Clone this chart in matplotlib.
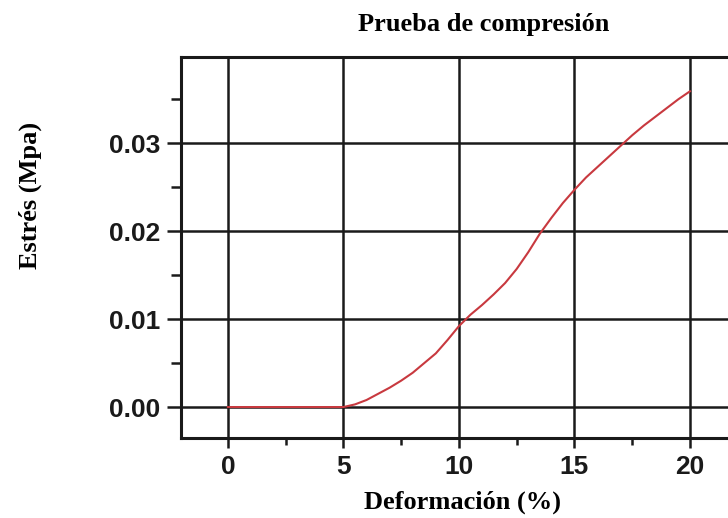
import matplotlib.pyplot as plt
from matplotlib.ticker import MultipleLocator

# Datos
deformacion = [0, 1, 2, 3, 4, 5, 5.5, 6, 6.5, 7, 7.5, 8, 8.5, 9, 9.5, 10, 10.5, 11, 11.5,
               12, 12.5, 13, 13.5, 14, 14.5, 15, 15.5, 16, 16.5, 17, 17.5, 18, 18.5,
               19, 19.5, 20]
estres = [0, 0, 0, 0, 0, 0, 0.0003, 0.0008, 0.0015, 0.0022, 0.0030, 0.0039, 0.0050,
          0.0061, 0.0076, 0.0092, 0.0105, 0.0116, 0.0128, 0.0141, 0.0157, 0.0176,
          0.0197, 0.0215, 0.0232, 0.0247, 0.0261, 0.0273, 0.0285, 0.0297, 0.0309,
          0.0320, 0.0330, 0.0340, 0.0350, 0.0359]

x_ticks = [0, 5, 10, 15, 20]
y_ticks = [0.00, 0.01, 0.02, 0.03]

fig = plt.figure(figsize=(7.28, 5.18), dpi=100)
# los ejes se salen por la derecha, como en la imagen original
ax = fig.add_axes([181 / 728, 80 / 518, 554 / 728, 381 / 518])

ax.plot(deformacion, estres, color='#c8393f', lw=1.5, zorder=3)

ax.set_xlim(-2.03, 21.95)
ax.set_ylim(-0.00352, 0.0398)
ax.set_xticks(x_ticks)
ax.set_yticks(y_ticks)
ax.set_xticklabels([str(t) for t in x_ticks])
ax.set_yticklabels(['%.2f' % t for t in y_ticks])
ax.xaxis.set_minor_locator(MultipleLocator(2.5))
ax.yaxis.set_minor_locator(MultipleLocator(0.005))

ax.grid(True, which='major', color='#1a1a1a', lw=1.8)
ax.tick_params(axis='x', which='major', direction='out', length=7, width=1.8, color='#1a1a1a', pad=5)
ax.tick_params(axis='x', which='minor', direction='out', length=5, width=1.8, color='#1a1a1a')
ax.tick_params(axis='y', which='major', direction='out', length=10, width=1.8, color='#1a1a1a', pad=5)
ax.tick_params(axis='y', which='minor', direction='out', length=7, width=1.8, color='#1a1a1a')
ax.tick_params(top=False, right=False)
for lbl in ax.get_xticklabels() + ax.get_yticklabels():
    lbl.set_fontfamily('Liberation Sans')
    lbl.set_fontweight('bold')
    lbl.set_fontsize(19)
    lbl.set_color('#1a1a1a')

for s in ['left', 'bottom', 'top']:
    ax.spines[s].set_linewidth(2.2)
    ax.spines[s].set_color('#1a1a1a')
ax.spines['right'].set_visible(False)

fig.text(484 / 728, 1 - 24 / 518, 'Prueba de compresión', ha='center', va='center',
         fontfamily='Liberation Serif', fontweight='bold', fontsize=19)
fig.text(462 / 728, 1 - 502 / 518, 'Deformación (%)', ha='center', va='center',
         fontfamily='Liberation Serif', fontweight='bold', fontsize=19)
fig.text(30 / 728, 1 - 195 / 518, 'Estrés (Mpa)', ha='center', va='center', rotation=90,
         fontfamily='Liberation Serif', fontweight='bold', fontsize=19)

fig.savefig('out.png', dpi=100)
